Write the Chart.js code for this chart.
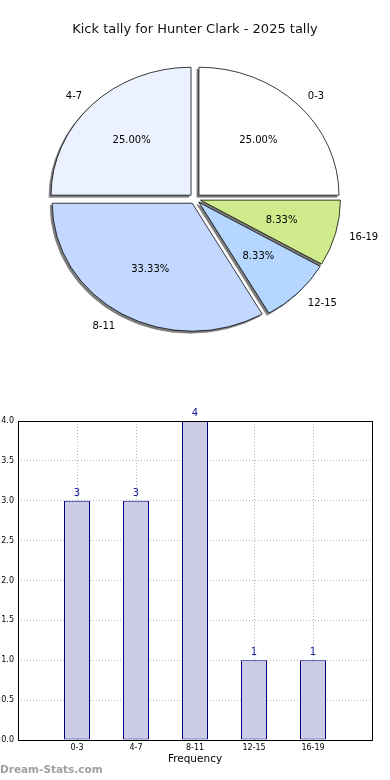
<!DOCTYPE html>
<html>
<head>
<meta charset="utf-8">
<script src="https://cdn.jsdelivr.net/npm/chart.js@4.4.1/dist/chart.umd.min.js"></script>
<style>
body{margin:0;width:390px;height:780px;position:relative;background:#fff;overflow:hidden}
#pie{position:absolute;left:0;top:0}
#bar{position:absolute;left:0;top:380px}
#mark{position:absolute;left:0;top:763px;font:bold 10.5px "DejaVu Sans";color:#a0a0a0;white-space:nowrap}
</style>
</head>
<body>
<canvas id="pie" width="390" height="360"></canvas>
<canvas id="bar" width="390" height="400"></canvas>
<div id="mark">Dream-Stats.com</div>
<script>
const categories = ['0-3', '4-7', '8-11', '12-15', '16-19'];
const counts = [3, 3, 4, 1, 1];
const yTicks = [0, 0.5, 1, 1.5, 2, 2.5, 3, 3.5, 4];
const chartTitle = 'Kick tally for Hunter Clark - 2025 tally';
const xTitle = 'Frequency';

const sliceColors = ['#ffffff', '#ebf1ff', '#c4d8ff', '#b4d6ff', '#d0eb8b'];
const font = 'DejaVu Sans';
const squash = 0.914   // the pie in the original is a bit flat
const explode = 5.6
const total = counts.reduce((a, b) => a + b, 0);

// chart.js goes clockwise, the original goes anticlockwise from 3 o'clock
const pieLabels = categories.slice().reverse();
const pieCounts = counts.slice().reverse();
const pieColors = sliceColors.slice().reverse();

const mid = a => (a.startAngle + a.endAngle) / 2;

const piePlug = {
  id: 'piePlug',
  beforeDatasetsDraw(chart) {
    const ctx = chart.ctx;
    const arcs = chart.getDatasetMeta(0).data;
    const cx = arcs[0].x, cy = arcs[0].y;
    ctx.save();
    ctx.translate(cx, cy); ctx.scale(1, squash); ctx.translate(-cx, -cy);
    // shadows first, drawn far away so only the shadow lands on the canvas
    ctx.save();
    ctx.shadowColor = '#7d7d7d';
    ctx.shadowBlur = 0;
    ctx.shadowOffsetX = 3000 - 2;
    ctx.shadowOffsetY = 2;
    arcs.forEach(a => {
      ctx.save();
      ctx.translate(Math.cos(mid(a)) * explode - 3000, Math.sin(mid(a)) * explode);
      a.draw(ctx);
      ctx.restore();
    });
    ctx.restore();
    arcs.forEach(a => {
      ctx.save();
      ctx.translate(Math.cos(mid(a)) * explode, Math.sin(mid(a)) * explode);
      a.draw(ctx);
      ctx.restore();
    });
    ctx.restore();
    return false;
  },
  afterDraw(chart) {
    const ctx = chart.ctx;
    const arcs = chart.getDatasetMeta(0).data;
    ctx.save();
    ctx.fillStyle = '#000';
    ctx.font = `10px "${font}"`;
    ctx.textBaseline = 'middle';
    arcs.forEach((a, i) => {
      const c = Math.cos(mid(a)), s = Math.sin(mid(a));
      const at = f => [a.x + (explode + f * a.outerRadius) * c, a.y + (explode + f * a.outerRadius) * s * squash];
      let [x, y] = at(1.1);
      ctx.textAlign = c > 0 ? 'left' : 'right';
      ctx.fillText(pieLabels[i], x, y + 1);
      [x, y] = at(0.6);
      ctx.textAlign = 'center';
      ctx.fillText((pieCounts[i] / total * 100).toFixed(2) + '%', x, y);
    });
    ctx.restore();
  }
};

new Chart(document.getElementById('pie'), {
  type: 'pie',
  data: {
    labels: pieLabels,
    datasets: [{
      data: pieCounts,
      backgroundColor: pieColors,
      borderColor: '#000',
      borderWidth: 0.8
    }]
  },
  options: {
    responsive: false,
    animation: false,
    events: [],
    rotation: 90,
    radius: 140,
    layout: {padding: 0},
    plugins: {
      legend: {display: false},
      tooltip: {enabled: false},
      title: {
        display: true,
        text: chartTitle,
        color: '#111',
        font: {family: font, size: 13, weight: 'normal'},
        padding: {top: 22, bottom: 0}
      }
    }
  },
  plugins: [piePlug]
});

const barPlug = {
  id: 'barPlug',
  afterDatasetsDraw(chart) {
    const ctx = chart.ctx;
    ctx.save();
    ctx.fillStyle = '#1a1a9c';
    ctx.font = `10px "${font}"`;
    ctx.textAlign = 'center';
    ctx.textBaseline = 'alphabetic';
    chart.getDatasetMeta(0).data.forEach((b, i) => {
      ctx.fillText(String(counts[i]), b.x, b.y - 5);
    });
    ctx.restore();
  },
  afterDraw(chart) {
    const {ctx, chartArea: a} = chart;
    ctx.save();
    ctx.strokeStyle = '#000';
    ctx.lineWidth = 1;
    ctx.strokeRect(Math.round(a.left) + 0.5, Math.round(a.top) + 0.5, Math.round(a.right - a.left), Math.round(a.bottom - a.top));
    ctx.restore();
  }
};

const gridStyle = {color: '#b8b8b8', borderDash: [1, 2], drawTicks: false, offset: false};

new Chart(document.getElementById('bar'), {
  type: 'bar',
  data: {
    datasets: [{
      data: counts.map((v, i) => ({x: i, y: v})),
      backgroundColor: '#cccce6',
      borderColor: '#000080',
      borderWidth: 1,
      borderSkipped: false,
      inflateAmount: 0,
      barThickness: 26
    }]
  },
  options: {
    responsive: false,
    animation: false,
    events: [],
    layout: {padding: {top: 41, right: 18, left: 0, bottom: 0}},
    plugins: {legend: {display: false}, tooltip: {enabled: false}},
    scales: {
      x: {
        type: 'linear', min: -1, max: 5, offset: false,
        afterFit: s => { s.height = 40 },
        ticks: {
          stepSize: 1, autoSkip: false, maxRotation: 0, padding: 3,
          callback: v => categories[v] ?? '',
          color: '#000', font: {family: font, size: 8}
        },
        grid: gridStyle,
        border: {display: false, dash: [1, 2]},
        title: {
          display: true, text: xTitle, color: '#000',
          font: {family: font, size: 10.5},
          padding: {top: 0, bottom: 14}
        }
      },
      y: {
        min: 0, max: 4,
        afterBuildTicks: s => { s.ticks = yTicks.map(v => ({value: v})) },
        afterFit: s => { s.width = 18 },
        ticks: {
          padding: 4, color: '#000', font: {family: font, size: 8},
          callback: v => Number(v).toFixed(1)
        },
        grid: gridStyle,
        border: {display: false, dash: [1, 2]}
      }
    }
  },
  plugins: [barPlug]
});
</script>
</body>
</html>
